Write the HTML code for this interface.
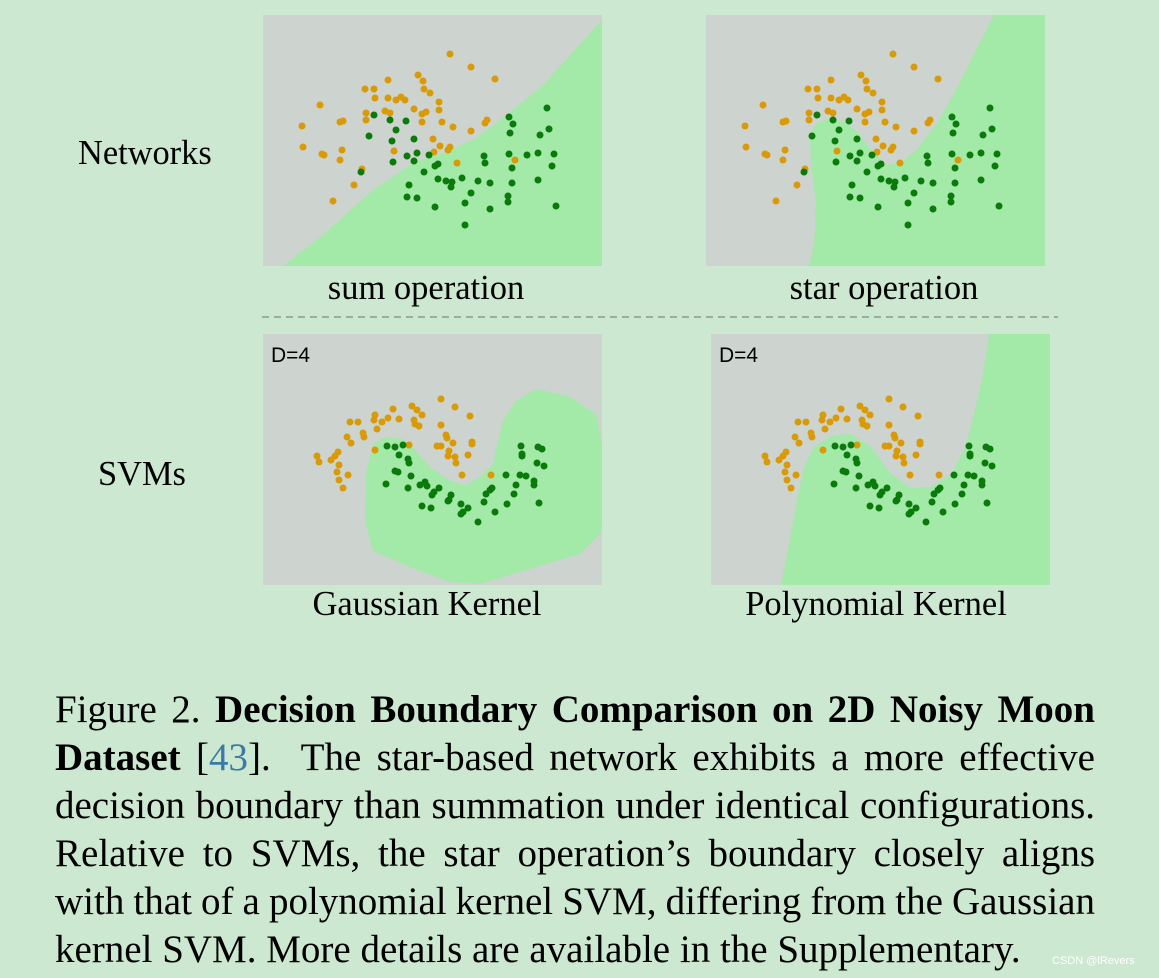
<!DOCTYPE html>
<html><head><meta charset="utf-8"><style>
html,body{margin:0;padding:0}
body{width:1159px;height:978px;background:#cce8d0;position:relative;overflow:hidden;font-family:"Liberation Serif",serif;color:#000}
.lbl{position:absolute;font-size:34.4px;white-space:nowrap}
.cap{position:absolute;font-size:34.5px;white-space:nowrap;transform:translateX(-50%)}
.line{position:absolute;left:55px;width:1040px;font-size:39px;white-space:nowrap;line-height:48px}
.line span.t{display:inline-block}
svg{position:absolute;left:0;top:0}
</style></head><body>
<svg id="fig" width="1159" height="978"></svg>
<div class="lbl" style="left:78px;top:134px">Networks</div>
<div class="lbl" style="left:98px;top:455px">SVMs</div>
<div class="cap" style="left:426px;top:269px">sum operation</div>
<div class="cap" style="left:884px;top:269px">star operation</div>
<div class="cap" style="left:427px;top:585px">Gaussian Kernel</div>
<div class="cap" style="left:876px;top:585px">Polynomial Kernel</div>
<div>
<div class="line j" style="top:686px"><span class="t">Figure 2. <b>Decision Boundary Comparison on 2D Noisy Moon</b></span></div>
<div class="line j" style="top:734px"><span class="t"><b>Dataset</b> [<span style="color:#3a7aa8">43</span>].&nbsp; The star-based network exhibits a more effective</span></div>
<div class="line j" style="top:782px"><span class="t">decision boundary than summation under identical configurations.</span></div>
<div class="line j" style="top:830px"><span class="t">Relative to SVMs, the star operation’s boundary closely aligns</span></div>
<div class="line j" style="top:878px"><span class="t">with that of a polynomial kernel SVM, differing from the Gaussian</span></div>
<div class="line" style="top:926px"><span class="t">kernel SVM. More details are available in the Supplementary.</span></div>
</div>
<div style="position:absolute;left:1052px;top:955px;font:11px 'Liberation Sans',sans-serif;color:#fff">CSDN @lRevers</div>
<script>
// top dataset points (panel-local px)
const topOrangeX=[187,208,232,125,155,160,102,111,161,167,112,125,133,138,142,176,57,151,176,122,127,103,159,163,39,77,80,103,159,179,190,222,224,208,40,59,61,79,77,170,177,185,187,171,131,194,252,99,91,70];
const topOrangeY=[39,52,64,65,60,66,74,74,74,78,83,83,85,82,85,87,90,94,95,96,98,98,99,97,111,107,106,105,107,107,112,108,105,116,132,139,140,135,145,124,131,135,132,137,136,148,145,154,170,186];
const topGreenX=[284,246,250,247,286,277,111,127,143,133,106,129,151,154,144,166,151,130,221,222,246,264,275,291,289,249,172,175,161,98,175,183,189,188,199,215,227,249,275,146,144,154,208,202,245,245,172,227,293,202];
const topGreenY=[93,102,109,118,114,120,100,105,106,115,121,126,124,138,141,140,146,147,141,148,139,140,138,139,151,153,151,149,157,157,164,166,167,172,163,166,168,168,165,170,182,183,178,188,181,187,192,194,191,210];
// bottom dataset points
const botOrangeX=[178,192,207,130,149,154,159,112,111,119,125,136,87,95,151,152,156,178,114,100,101,84,88,183,184,190,209,209,174,178,186,185,205,192,193,146,112,75,72,54,56,68,76,74,85,76,80,199,228];
const botOrangeY=[65,73,82,75,72,76,81,81,86,88,84,85,88,88,86,90,92,91,95,99,103,103,109,101,104,109,108,110,112,112,117,122,121,123,129,111,116,118,122,122,128,126,131,138,141,146,154,141,141];
const botGreenX=[124,132,140,136,145,146,132,135,148,123,145,157,162,164,176,171,169,188,186,185,159,168,198,205,200,198,215,221,223,227,229,232,244,243,251,253,257,263,271,271,258,259,259,275,279,274,281,276];
const botGreenY=[112,113,111,121,125,129,137,138,142,150,154,151,148,152,154,158,161,161,166,167,172,174,170,174,178,180,188,168,160,156,154,178,170,141,160,151,141,142,147,151,112,120,122,113,115,129,132,169];
// decision-region boundaries (panel-local)
const sumRegion=[[20,254],[60,220],[110,175],[150,148],[180,138],[210,125],[240,103],[280,70],[340,5],[340,254]];
const starRegion=[[288,0],[340,0],[340,254],[103,254],[108,230],[110,190],[105,150],[104,120],[110,108],[125,103],[140,108],[152,118],[165,135],[180,150],[195,148],[210,135],[230,110],[250,75],[270,35]];
const gaussRegion=[[273,55],[305,62],[333,80],[340,110],[340,190],[337,200],[317,220],[273,233],[217,250],[187,248],[147,233],[110,217],[102,187],[103,140],[110,110],[123,103],[140,105],[153,117],[167,133],[187,147],[202,151],[217,143],[230,130],[235,107],[240,87],[253,67]];
const polyRegion=[[278,0],[340,0],[340,254],[70,254],[80,200],[87,160],[93,133],[103,113],[120,102],[140,100],[160,113],[180,140],[200,154],[220,153],[240,140],[253,117],[263,80],[272,40]];

const NS='http://www.w3.org/2000/svg';
const svg=document.getElementById('fig');
function mk(tag,attrs,parent){const e=document.createElementNS(NS,tag);for(const k in attrs)e.setAttribute(k,attrs[k]);(parent||svg).appendChild(e);return e;}
function panel(name,x0,y0,region,ox,oy,gx,gy,dlabel){
  const g=mk('g',{transform:'translate('+x0+','+y0+')'});
  
  
  const bg=mk('rect',{x:0,y:0,width:339,height:251,fill:'#cdd3cf'},g);
  
  
  const poly=mk('polygon',{points:region.map(p=>Math.min(p[0],339)+','+Math.min(p[1],251)).join(' '),fill:'#a3e9a8'},g);
  
  
  for(let i=0;i<ox.length;i++){const c=mk('circle',{cx:ox[i],cy:oy[i],r:3.5,fill:'#d99a06'},g);
    
    }
  for(let i=0;i<gx.length;i++){const c=mk('circle',{cx:gx[i],cy:gy[i],r:3.5,fill:'#0a7a0a'},g);
    
    }
  if(dlabel){const t=mk('text',{x:8,y:28,'font-family':'Liberation Sans, sans-serif','font-size':'21',fill:'#000'},g);t.textContent='D=4';
    
    }
}
panel('sum-operation-panel',263,15,sumRegion,topOrangeX,topOrangeY,topGreenX,topGreenY,false);
panel('star-operation-panel',706,15,starRegion,topOrangeX,topOrangeY,topGreenX,topGreenY,false);
panel('gaussian-kernel-panel',263,334,gaussRegion,botOrangeX,botOrangeY,botGreenX,botGreenY,true);
panel('polynomial-kernel-panel',711,334,polyRegion,botOrangeX,botOrangeY,botGreenX,botGreenY,true);
const dl=mk('line',{x1:262,y1:317,x2:1058,y2:317,stroke:'#8a9a8c','stroke-width':1.5,'stroke-dasharray':'7,5'});


// justify caption lines by adjusting word spacing (handles overflow too)
document.querySelectorAll('.line.j').forEach(function(l){
  const t=l.querySelector('span.t');
  const w=t.getBoundingClientRect().width;
  const n=(t.textContent.match(/[ \u00a0]/g)||[]).length;
  if(n>0) t.style.wordSpacing=((1040-w)/n)+'px';
});
</script>
</body></html>
